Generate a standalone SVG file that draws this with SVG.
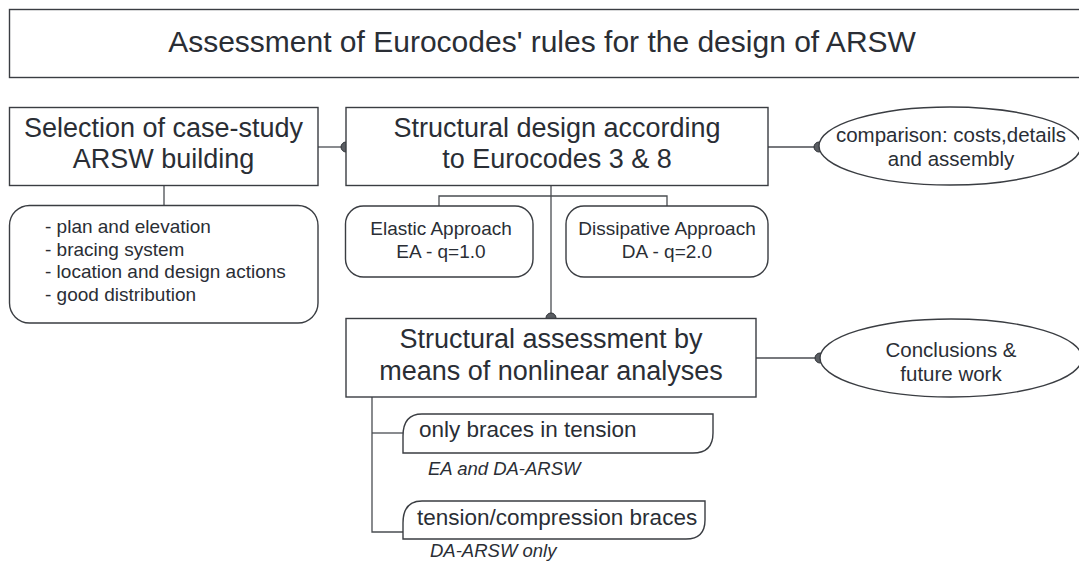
<svg xmlns="http://www.w3.org/2000/svg" width="1079" height="565" viewBox="0 0 1079 565">
<style>
.box{fill:#fff;stroke:#3a3d42;stroke-width:1.4}
.ln{fill:none;stroke:#4a4d52;stroke-width:1.3}
.dot{fill:#5a5d62;stroke:#303338;stroke-width:1}
text{font-family:"Liberation Sans",Arial,sans-serif;fill:#2a2e35}
.t30{font-size:30px;text-anchor:middle}
.t27{font-size:27px;text-anchor:middle}
.t19{font-size:19px}
.c19{font-size:19px;text-anchor:middle}
.c20{font-size:20.5px;text-anchor:middle}
.p22{font-size:22.5px}
.it{font-size:18.5px;font-style:italic}
</style>
<rect width="1079" height="565" fill="#fff"/>
<g id="connectors">
<path class="ln" d="M318 147H346"/>
<path class="ln" d="M768 147H819"/>
<path class="ln" d="M164 185V205"/>
<path class="ln" d="M551 186V318"/>
<path class="ln" d="M439 206V196H667V206"/>
<path class="ln" d="M756 358H820"/>
<path class="ln" d="M372 397V532H403"/>
<path class="ln" d="M372 433H403"/>
<circle class="dot" cx="346" cy="147" r="5"/>
<circle class="dot" cx="819" cy="147" r="5"/>
<circle class="dot" cx="551" cy="318" r="5"/>
<circle class="dot" cx="820" cy="358" r="5"/>
</g>
<g id="title">
<rect class="box" x="9.5" y="9.5" width="1080" height="68"/>
<text class="t30" x="542" y="52">Assessment of Eurocodes' rules for the design of ARSW</text>
</g>
<g id="selection">
<rect class="box" x="9.5" y="107.5" width="308.5" height="78"/>
<text class="t27" x="163.5" y="137">Selection of case-study</text>
<text class="t27" x="163.5" y="168">ARSW building</text>
</g>
<g id="selection-details">
<rect class="box" x="9.5" y="205.5" width="308.5" height="117.5" rx="20" ry="20"/>
<text class="t19" x="45" y="233">- plan and elevation</text>
<text class="t19" x="45" y="255.5">- bracing system</text>
<text class="t19" x="45" y="278">- location and design actions</text>
<text class="t19" x="45" y="300.5">- good distribution</text>
</g>
<g id="design">
<rect class="box" x="346" y="107.5" width="422" height="78"/>
<text class="t27" x="557" y="137">Structural design according</text>
<text class="t27" x="557" y="168">to Eurocodes 3 &amp; 8</text>
</g>
<g id="comparison">
<ellipse class="box" cx="950" cy="146" rx="131" ry="39"/>
<text class="c20" x="951" y="142">comparison: costs,details</text>
<text class="c20" x="951" y="166">and assembly</text>
</g>
<g id="elastic">
<rect class="box" x="345.5" y="206" width="187.5" height="71" rx="18" ry="18"/>
<text class="c19" x="441" y="235">Elastic Approach</text>
<text class="c19" x="441" y="257.5">EA - q=1.0</text>
</g>
<g id="dissipative">
<rect class="box" x="566" y="206" width="202" height="71" rx="18" ry="18"/>
<text class="c19" x="667" y="235">Dissipative Approach</text>
<text class="c19" x="667" y="257.5">DA - q=2.0</text>
</g>
<g id="assessment">
<rect class="box" x="346" y="318.5" width="410" height="78.5"/>
<text class="t27" x="551" y="348">Structural assessment by</text>
<text class="t27" x="551" y="380">means of nonlinear analyses</text>
</g>
<g id="conclusions">
<ellipse class="box" cx="951" cy="358" rx="131" ry="39"/>
<text class="c20" x="951" y="357">Conclusions &amp;</text>
<text class="c20" x="951" y="381">future work</text>
</g>
<g id="tension-only">
<path class="box" d="M403 453V436Q403 414 422 414H713V433Q713 453 693 453Z"/>
<text class="p22" x="419" y="437">only braces in tension</text>
<text class="it" x="428" y="475">EA and DA-ARSW</text>
</g>
<g id="tension-compression">
<path class="box" d="M403 539V523Q403 501 422 501H705V520Q705 539 686 539Z"/>
<text class="p22" x="417" y="525">tension/compression braces</text>
<text class="it" x="430" y="557">DA-ARSW only</text>
</g>
</svg>
